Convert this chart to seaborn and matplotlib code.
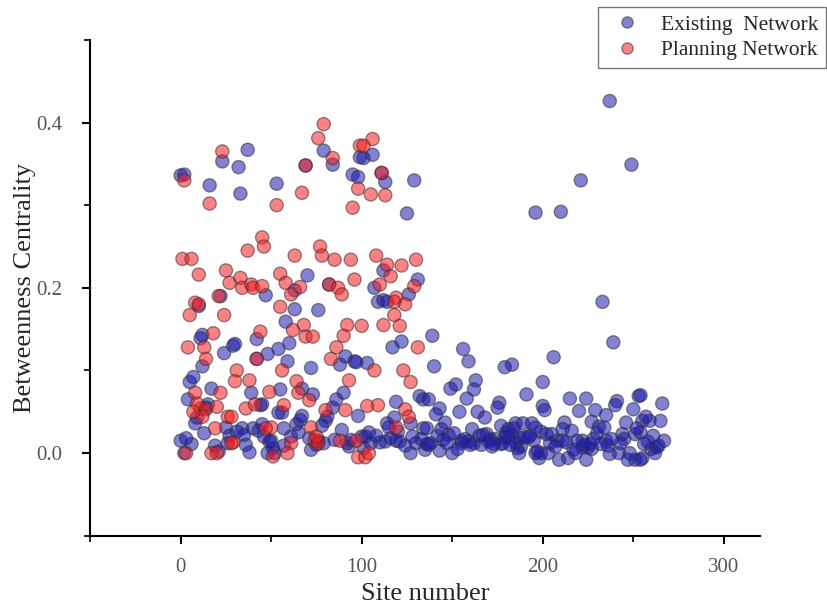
import numpy as np
import pandas as pd
import seaborn as sns
import matplotlib
matplotlib.use("Agg")
import matplotlib.pyplot as plt
from matplotlib.ticker import MultipleLocator

# Existing network: (site number, betweenness centrality)
existing_site = [0, 0, 2, 2, 4, 5, 7, 9, 8, 6, 10, 12, 11, 12, 14, 15, 16, 17, 21, 22,
                 23, 24, 25, 27, 29, 30, 32, 33, 34, 37, 36, 38, 39, 40, 42, 42, 44, 46, 45, 45,
                 47, 48, 54, 53, 55, 56, 58, 59, 60, 63, 63, 64, 65, 67, 69, 67, 73, 70, 72, 76,
                 79, 84, 82, 88, 91, 96, 90, 86, 84, 80, 50, 52, 48, 72, 76, 79, 54, 57, 98, 100,
                 93, 95, 98, 99, 101, 106, 111, 113, 129, 125, 112, 131, 107, 126, 109, 112, 114, 122, 117, 97,
                 103, 132, 134, 119, 118, 114, 115, 127, 134, 110, 119, 130, 137, 113, 101, 127, 135, 104, 139, 156,
                 159, 140, 179, 183, 163, 162, 152, 149, 200, 191, 158, 176, 175, 137, 143, 141, 154, 164, 168, 200,
                 146, 144, 136, 161, 177, 185, 189, 194, 181, 148, 155, 162, 174, 181, 185, 188, 199, 136, 143, 150,
                 153, 155, 159, 165, 169, 171, 173, 166, 177, 179, 183, 187, 192, 186, 187, 196, 199, 237, 249, 221,
                 196, 210, 233, 239, 206, 201, 215, 224, 220, 229, 241, 240, 253, 235, 250, 246, 212, 211, 227, 231,
                 234, 230, 202, 205, 208, 211, 196, 195, 244, 245, 251, 255, 222, 235, 198, 203, 209, 214, 218, 222,
                 225, 227, 224, 237, 242, 248, 247, 251, 255, 254, 266, 257, 259, 265, 254, 261, 267, 263, 260, 262,
                 254, 3, 13, 19, 26, 31, 35, 43, 49, 51, 57, 61, 66, 71, 75, 78, 81, 85, 89, 92,
                 94, 102, 105, 108, 116, 120, 121, 124, 128, 133, 138, 142, 145, 147, 151, 157, 160, 167, 170, 172,
                 178, 180, 182, 184, 190, 193, 197, 204, 207, 213, 216, 217, 219, 223, 226, 228, 232, 236, 238, 243,
                 252, 256, 258, 264]
existing_bc = [0.336, 0.015, 0.337, 0.0, 0.065, 0.086, 0.092, 0.043, 0.036, 0.011, 0.178, 0.143, 0.139, 0.105, 0.055, 0.059, 0.324, 0.078, 0.002, 0.19,
               0.353, 0.121, 0.031, 0.021, 0.13, 0.132, 0.346, 0.314, 0.03, 0.367, 0.01, 0.001, 0.073, 0.03, 0.138, 0.114, 0.058, 0.02, 0.059, 0.035,
               0.191, 0.12, 0.126, 0.326, 0.077, 0.049, 0.159, 0.111, 0.133, 0.174, 0.197, 0.035, 0.025, 0.045, 0.348, 0.078, 0.071, 0.215, 0.103, 0.173,
               0.366, 0.349, 0.204, 0.107, 0.117, 0.111, 0.073, 0.065, 0.055, 0.039, 0.015, 0.0, 0.0, 0.004, 0.015, 0.012, 0.049, 0.03, 0.045, 0.02,
               0.008, 0.337, 0.334, 0.358, 0.357, 0.361, 0.339, 0.328, 0.33, 0.29, 0.221, 0.21, 0.2, 0.192, 0.183, 0.185, 0.183, 0.135, 0.128, 0.11,
               0.109, 0.069, 0.065, 0.062, 0.043, 0.036, 0.031, 0.036, 0.03, 0.013, 0.015, 0.012, 0.01, 0.014, 0.006, 0.0, 0.004, 0.025, 0.142, 0.126,
               0.111, 0.105, 0.104, 0.107, 0.088, 0.077, 0.083, 0.078, 0.086, 0.071, 0.066, 0.061, 0.055, 0.065, 0.054, 0.047, 0.05, 0.05, 0.043, 0.057,
               0.037, 0.029, 0.03, 0.029, 0.033, 0.036, 0.036, 0.036, 0.029, 0.022, 0.012, 0.012, 0.017, 0.019, 0.013, 0.008, 0.026, 0.011, 0.003, 0.0,
               0.005, 0.015, 0.014, 0.021, 0.023, 0.017, 0.011, 0.01, 0.011, 0.019, 0.022, 0.019, 0.019, 0.006, 0.0, 0.0, 0.0, 0.426, 0.349, 0.33,
               0.291, 0.292, 0.183, 0.134, 0.116, 0.052, 0.066, 0.066, 0.051, 0.052, 0.063, 0.058, 0.069, 0.046, 0.053, 0.037, 0.037, 0.029, 0.038, 0.032,
               0.031, 0.024, 0.023, 0.023, 0.015, 0.015, 0.031, 0.015, 0.023, 0.017, 0.023, 0.039, 0.015, 0.015, -0.006, 0.0, -0.008, -0.006, 0.0, 0.007,
               0.007, 0.005, -0.008, -0.001, 0.0, 0.0, -0.008, -0.008, -0.006, 0.07, 0.06, 0.044, 0.039, 0.039, 0.025, 0.021, 0.015, 0.007, 0.005, 0.0,
               -0.008, 0.018, 0.024, 0.009, 0.012, 0.026, 0.022, 0.027, 0.014, 0.006, 0.009, 0.02, 0.04, 0.018, 0.01, 0.033, 0.044, 0.016, 0.028, 0.012,
               0.016, 0.02, 0.012, 0.021, 0.018, 0.026, 0.014, 0.009, 0.02, 0.017, 0.012, 0.021, 0.016, 0.012, 0.024, 0.017, 0.01, 0.022, 0.014, 0.008,
               0.012, 0.025, 0.01, 0.03, 0.019, 0.021, 0.002, 0.012, 0.008, 0.013, 0.027, 0.004, 0.015, 0.01, 0.011, 0.017, 0.011, 0.009, 0.017, 0.012,
               0.03, 0.011, 0.014, 0.009]

# Planning network
planning_site = [23, 2, 16, 45, 46, 37, 1, 6, 10, 25, 27, 33, 34, 39, 40, 45, 8, 10, 5, 24,
                 18, 4, 13, 44, 42, 14, 31, 30, 38, 22, 8, 11, 14, 20, 36, 41, 12, 26, 28, 19,
                 29, 3, 17, 20, 9, 21, 79, 76, 84, 69, 67, 53, 99, 98, 95, 77, 78, 63, 85, 94,
                 55, 58, 96, 82, 87, 89, 61, 66, 55, 68, 62, 69, 73, 92, 90, 86, 83, 56, 93, 64,
                 65, 71, 49, 57, 80, 91, 50, 72, 74, 76, 88, 61, 59, 98, 102, 51, 28, 106, 101, 111,
                 105, 113, 108, 114, 122, 130, 116, 129, 110, 119, 118, 124, 118, 100, 112, 121, 131, 107, 123, 127,
                 103, 109, 124, 126, 119, 104, 75, 7, 47, 97]
planning_bc = [0.365, 0.33, 0.302, 0.261, 0.25, 0.245, 0.235, 0.235, 0.216, 0.221, 0.206, 0.212, 0.2, 0.204, 0.2, 0.202, 0.182, 0.18, 0.167, 0.167,
               0.145, 0.128, 0.128, 0.147, 0.114, 0.114, 0.1, 0.087, 0.088, 0.073, 0.073, 0.054, 0.053, 0.056, 0.054, 0.059, 0.044, 0.044, 0.044, 0.03,
               0.013, 0.0, 0.0, 0.0, 0.06, 0.19, 0.398, 0.381, 0.357, 0.348, 0.315, 0.3, 0.372, 0.32, 0.297, 0.25, 0.239, 0.239, 0.234, 0.234,
               0.217, 0.206, 0.21, 0.204, 0.2, 0.192, 0.192, 0.201, 0.177, 0.155, 0.149, 0.141, 0.141, 0.155, 0.142, 0.128, 0.114, 0.1, 0.088, 0.087,
               0.073, 0.064, 0.074, 0.058, 0.052, 0.052, 0.031, 0.031, 0.015, 0.012, 0.015, 0.012, 0.0, -0.005, -0.005, -0.004, 0.012, 0.38, 0.372, 0.339,
               0.313, 0.312, 0.239, 0.228, 0.227, 0.234, 0.214, 0.202, 0.204, 0.188, 0.183, 0.18, 0.167, 0.154, 0.155, 0.154, 0.128, 0.1, 0.1, 0.086,
               0.057, 0.058, 0.053, 0.044, 0.031, 0.0, 0.02, 0.05, 0.03, 0.015]

df = pd.concat([
    pd.DataFrame({"site": existing_site, "bc": existing_bc, "net": "Existing  Network"}),
    pd.DataFrame({"site": planning_site, "bc": planning_bc, "net": "Planning Network"}),
])

sns.set_style("ticks")
plt.rcParams["font.family"] = ["Liberation Serif", "DejaVu Serif"]

fig = plt.figure(figsize=(8.27, 6.04), dpi=100)
ax = fig.add_axes([0.109, 0.113, 0.81, 0.821])

sns.scatterplot(data=df, x="site", y="bc", hue="net",
                palette={"Existing  Network": "#1a1ab4", "Planning Network": "#ff1a1a"},
                s=90, alpha=0.55, edgecolor="#333333", linewidth=1.0, ax=ax, legend=True)

ax.set_xlim(-50, 320)
ax.set_ylim(-0.1, 0.5)
ax.xaxis.set_minor_locator(MultipleLocator(50))
ax.yaxis.set_minor_locator(MultipleLocator(0.1))
ax.set_xticks([0, 100, 200, 300])
ax.set_yticks([0.0, 0.2, 0.4])
ax.set_yticklabels(["0.0", "0.2", "0.4"])
ax.tick_params(which="major", direction="out", length=6, width=1.5, labelsize=15,
               labelcolor="#555555", color="black")
ax.tick_params(axis="x", which="major", pad=10)
ax.tick_params(axis="y", which="major", pad=14)
ax.tick_params(which="minor", direction="out", length=4, width=1.2, color="black")
for s in ["left", "bottom"]:
    ax.spines[s].set_linewidth(1.5)
    ax.spines[s].set_color("black")
sns.despine(ax=ax)

ax.set_xlabel("Site number", fontsize=19, labelpad=4)
ax.set_ylabel("Betweenness Centrality", fontsize=19, labelpad=0)

leg = ax.legend(loc="upper right", bbox_to_anchor=(0.999, 0.988), bbox_transform=fig.transFigure,
                borderaxespad=0, frameon=True, fancybox=False, fontsize=15.5, markerscale=0.85,
                handletextpad=0.6, borderpad=0.35, labelspacing=0.25, handlelength=2.0)
leg.get_frame().set_edgecolor("#555555")
leg.get_frame().set_linewidth(1.0)

fig.savefig("out.png", dpi=100)
